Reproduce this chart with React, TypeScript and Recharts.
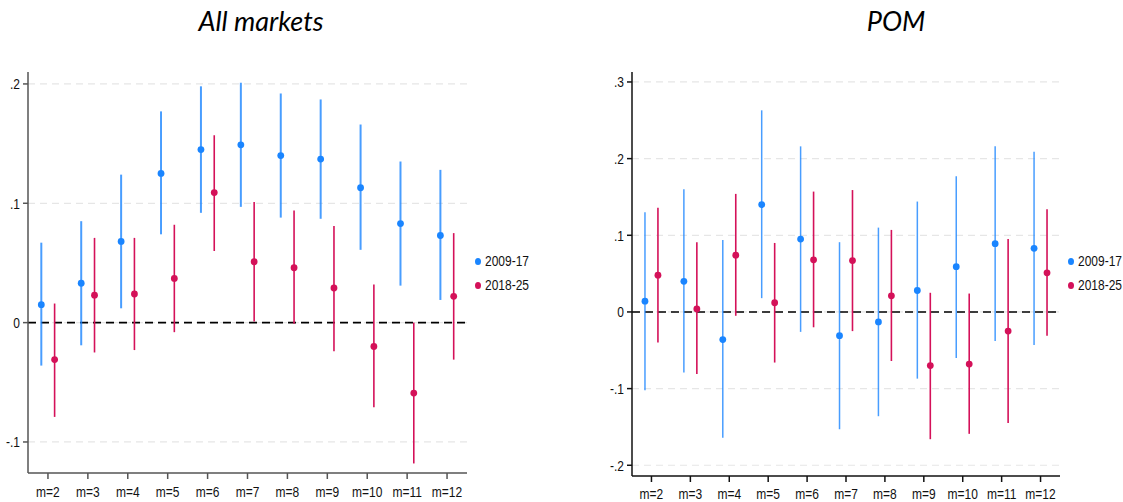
import React from "react";
import {
  ScatterChart,
  Scatter,
  XAxis,
  YAxis,
  CartesianGrid,
  ErrorBar,
  ReferenceLine,
} from "recharts";

const months = [2, 3, 4, 5, 6, 7, 8, 9, 10, 11, 12];
const seriesNames = ["2009-17", "2018-25"];

// All markets
const allBlueEst = [0.015, 0.033, 0.068, 0.125, 0.145, 0.149, 0.14, 0.137, 0.113, 0.083, 0.073];
const allBlueLo = [-0.036, -0.019, 0.012, 0.074, 0.092, 0.097, 0.088, 0.087, 0.061, 0.031, 0.019];
const allBlueHi = [0.067, 0.085, 0.124, 0.177, 0.198, 0.201, 0.192, 0.187, 0.166, 0.135, 0.128];
const allRedEst = [-0.031, 0.023, 0.024, 0.037, 0.109, 0.051, 0.046, 0.029, -0.02, -0.059, 0.022];
const allRedLo = [-0.079, -0.025, -0.023, -0.008, 0.06, 0.001, -0.001, -0.024, -0.071, -0.118, -0.031];
const allRedHi = [0.016, 0.071, 0.071, 0.082, 0.157, 0.101, 0.094, 0.081, 0.032, 0.0, 0.075];
const allTicks = [-0.1, 0, 0.1, 0.2];

// POM
const pomBlueEst = [0.014, 0.04, -0.036, 0.14, 0.095, -0.031, -0.013, 0.028, 0.059, 0.089, 0.083];
const pomBlueLo = [-0.102, -0.079, -0.164, 0.018, -0.026, -0.153, -0.136, -0.087, -0.06, -0.038, -0.043];
const pomBlueHi = [0.13, 0.16, 0.094, 0.263, 0.216, 0.091, 0.11, 0.144, 0.177, 0.216, 0.209];
const pomRedEst = [0.048, 0.004, 0.074, 0.012, 0.068, 0.067, 0.021, -0.07, -0.068, -0.025, 0.051];
const pomRedLo = [-0.04, -0.081, -0.005, -0.066, -0.02, -0.025, -0.064, -0.166, -0.159, -0.145, -0.031];
const pomRedHi = [0.136, 0.091, 0.154, 0.09, 0.157, 0.159, 0.107, 0.025, 0.024, 0.095, 0.134];
const pomTicks = [-0.2, -0.1, 0, 0.1, 0.2, 0.3];

const BLUE = "#1a85ff";
const RED = "#d41159";
const tickFont = "'Liberation Sans', Arial, sans-serif";
const SQUEEZE = 0.8; // narrow-ish look like the original

const build = (est: number[], lo: number[], hi: number[], shift: number) =>
  months.map((m, i) => ({ x: m + shift, y: est[i], err: [est[i] - lo[i], hi[i] - est[i]] }));

const fmtY = (v: number) => {
  if (v === 0) return "0";
  const s = String(Math.round(v * 10) / 10);
  return s.replace("0.", ".");
};

const Dot = (color: string) => (props: any) =>
  <circle cx={props.cx} cy={props.cy} r={3.4} fill={color} />;

const XTick = (props: any) => {
  const { x, y, payload } = props;
  return (
    <g transform={`translate(${x},${y})`}>
      <text transform={`scale(${SQUEEZE},1)`} x={0} y={0} dy="0.71em" textAnchor="middle"
        fill="#111" fontSize={15} fontFamily={tickFont}>
        {`m=${payload.value}`}
      </text>
    </g>
  );
};

const YTick = (props: any) => {
  const { x, y, payload } = props;
  return (
    <g transform={`translate(${x},${y})`}>
      <text transform={`scale(${SQUEEZE},1)`} x={0} y={0} dy="0.355em" textAnchor="end"
        fill="#111" fontSize={15} fontFamily={tickFont}>
        {fmtY(payload.value)}
      </text>
    </g>
  );
};

const LegendBox = ({ left }: { left: number }) => (
  <div style={{ position: "absolute", left, top: 249, fontFamily: tickFont, fontSize: 15, color: "#111", lineHeight: "24px", whiteSpace: "nowrap", width: 60 }}>
    {seriesNames.map((n, i) => (
      <div key={n} style={{ display: "flex", alignItems: "center" }}>
        <span style={{ flex: "none", width: 6, height: 7, borderRadius: "50%", background: i === 0 ? BLUE : RED, marginRight: 4 }} />
        <span style={{ display: "inline-block", transform: `scaleX(${SQUEEZE})`, transformOrigin: "left center" }}>{n}</span>
      </div>
    ))}
  </div>
);

interface PanelProps {
  title: string;
  left: number;
  width: number;
  blue: any[];
  red: any[];
  domain: [number, number];
  ticks: number[];
  margin: { top: number; right: number; left: number; bottom: number };
  yWidth: number;
  xHeight: number;
  xTickMargin: number;
  axisColor: string;
  blueLineW: number;
  titleX: number;
  legendLeft: number;
}

const Panel: React.FC<PanelProps> = (p) => (
  <div style={{ position: "absolute", left: p.left, top: 0, width: p.width, height: 502 }}>
    <div
      style={{
        position: "absolute",
        left: p.titleX - p.left - 150,
        width: 300,
        top: 4,
        textAlign: "center",
        fontFamily: "Lato, 'Open Sans', sans-serif",
        fontStyle: "italic",
        fontSize: 27,
        color: "#000",
      }}
    >
      {p.title}
    </div>
    <ScatterChart width={p.width} height={502} margin={p.margin}>
      <CartesianGrid
        vertical={false}
        stroke="#e6e6e6"
        strokeDasharray="7 5"
        strokeWidth={1.2}
        syncWithTicks
      />
      <XAxis
        type="number"
        dataKey="x"
        domain={[1.5, 12.5]}
        ticks={months}
        allowDataOverflow
        height={p.xHeight}
        stroke={p.axisColor}
        strokeWidth={1.5}
        tickSize={6}
        tickMargin={p.xTickMargin}
        tick={<XTick />}
        interval={0}
      />
      <YAxis
        type="number"
        dataKey="y"
        domain={p.domain}
        ticks={p.ticks}
        allowDataOverflow
        interval={0}
        width={p.yWidth}
        stroke={p.axisColor}
        strokeWidth={1.5}
        tickSize={5}
        tickMargin={3}
        tick={<YTick />}
      />
      <ReferenceLine y={0} stroke="#000" strokeWidth={1.6} strokeDasharray="8 5" />
      <Scatter data={p.blue} name={seriesNames[0]} shape={Dot(BLUE)} isAnimationActive={false}>
        <ErrorBar dataKey="err" direction="y" width={0} stroke={BLUE} strokeOpacity={0.8} strokeWidth={p.blueLineW} />
      </Scatter>
      <Scatter data={p.red} name={seriesNames[1]} shape={Dot(RED)} isAnimationActive={false}>
        <ErrorBar dataKey="err" direction="y" width={0} stroke={RED} strokeWidth={1.6} />
      </Scatter>
    </ScatterChart>
    <LegendBox left={p.legendLeft} />
  </div>
);

export default function App() {
  return (
    <div style={{ position: "absolute", left: 0, top: 0, width: 1123, height: 502, background: "#fff" }}>
      <Panel
        title="All markets"
        left={0}
        width={560}
        blue={build(allBlueEst, allBlueLo, allBlueHi, -1 / 6)}
        red={build(allRedEst, allRedLo, allRedHi, 1 / 6)}
        domain={[-0.126, 0.21]}
        ticks={allTicks}
        margin={{ top: 72, right: 93, left: 0, bottom: 0 }}
        yWidth={28}
        xHeight={29}
        xTickMargin={7}
        axisColor="#555"
        blueLineW={2}
        titleX={261}
        legendLeft={475}
      />
      <Panel
        title="POM"
        left={560}
        width={563}
        blue={build(pomBlueEst, pomBlueLo, pomBlueHi, -1 / 6)}
        red={build(pomRedEst, pomRedLo, pomRedHi, 1 / 6)}
        domain={[-0.214, 0.313]}
        ticks={pomTicks}
        margin={{ top: 72, right: 63, left: 40, bottom: 0 }}
        yWidth={32}
        xHeight={26}
        xTickMargin={6}
        axisColor="#111"
        blueLineW={1.5}
        titleX={896}
        legendLeft={508}
      />
    </div>
  );
}
